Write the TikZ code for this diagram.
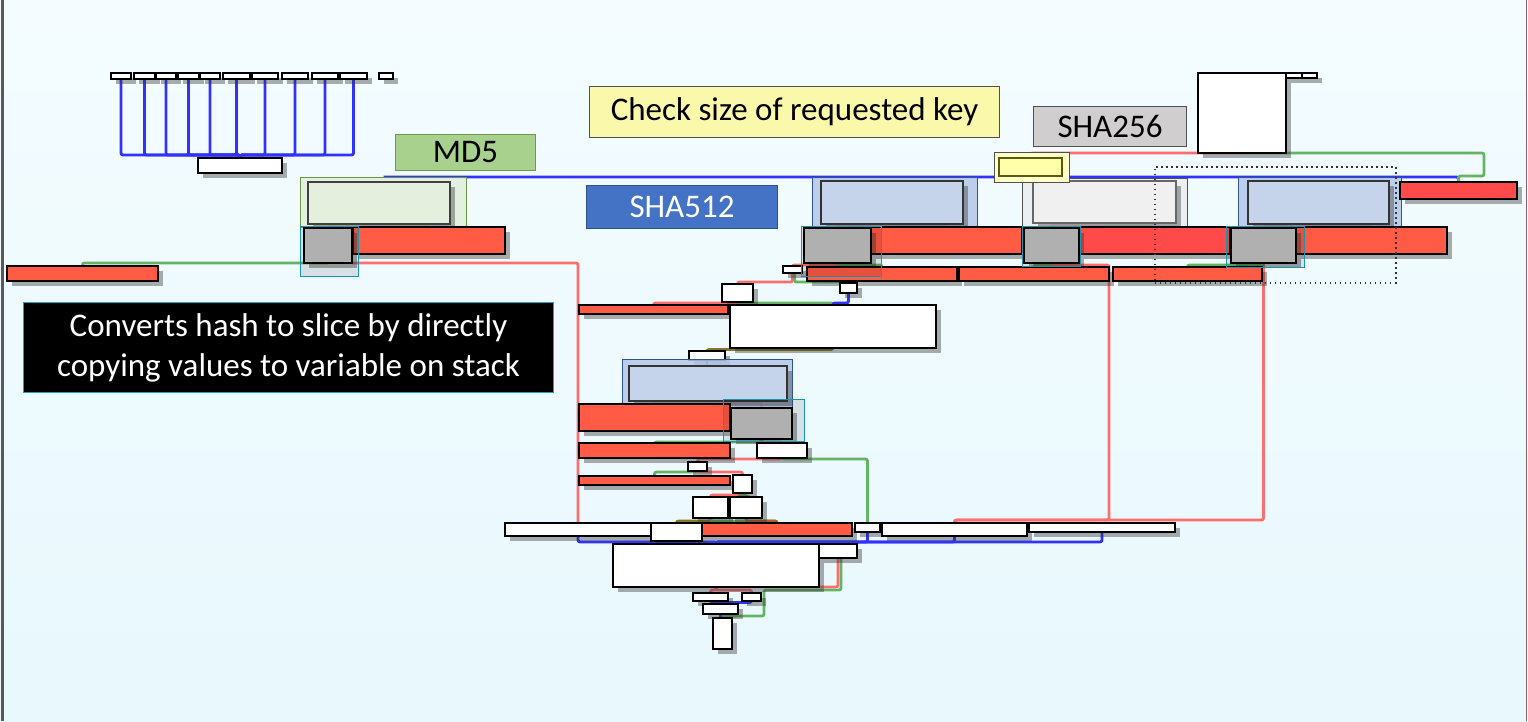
\documentclass[tikz,border=0pt]{standalone}
\usepackage{fontspec}
\setmainfont{Carlito}
\usepackage{xcolor}
\usetikzlibrary{shadows, backgrounds, calc}
\pgfdeclarelayer{edgelayer}
\pgfdeclarelayer{front}
\pgfsetlayers{background,edgelayer,main,front}
\definecolor{bgtop}{RGB}{244,252,255}
\definecolor{bgbot}{RGB}{232,248,253}
\definecolor{boxred}{RGB}{255,91,69}
\definecolor{boxredB}{RGB}{255,74,74}
\definecolor{boxgray}{RGB}{196,196,196}
\definecolor{grpbluedraw}{RGB}{47,85,151}
\definecolor{grpbluefill}{RGB}{180,199,231}
\definecolor{inbluefill}{RGB}{197,211,235}
\definecolor{grpgreendraw}{RGB}{106,150,72}
\definecolor{grpgreenfill}{RGB}{226,239,218}
\definecolor{ingreenfill}{RGB}{228,240,221}
\definecolor{grpgraydraw}{RGB}{80,80,80}
\definecolor{grpgrayfill}{RGB}{236,237,238}
\definecolor{ingrayfill}{RGB}{240,240,240}
\definecolor{grpyelfill}{RGB}{255,255,200}
\definecolor{inyelfill}{RGB}{255,255,170}
\definecolor{inyeldraw}{RGB}{90,90,20}
\definecolor{selcyan}{RGB}{25,150,175}
\definecolor{edgered}{RGB}{255,110,110}
\definecolor{edgegreen}{RGB}{100,180,100}
\definecolor{edgeblue}{RGB}{50,50,255}
\definecolor{edgeolive}{RGB}{130,120,40}
\definecolor{edgebrown}{RGB}{175,95,50}
\definecolor{lblchk}{RGB}{250,248,170}
\definecolor{lblmd5}{RGB}{169,209,142}
\definecolor{lblmd5d}{RGB}{112,150,80}
\definecolor{lbls512}{RGB}{68,114,196}
\definecolor{lbls512d}{RGB}{47,82,143}
\definecolor{lbls256}{RGB}{208,206,206}
\definecolor{lbldark}{RGB}{80,80,80}
\definecolor{notecyan}{RGB}{30,165,185}

\begin{document}
\begin{tikzpicture}[
    x=1pt, y=-1pt,
    % Block Styles
    blk/.style={rectangle, anchor=north west, inner sep=0pt, outer sep=0pt, line width=1.8pt, draw=black},
    shd/.style={drop shadow={shadow xshift=4.5pt, shadow yshift=-4.5pt, opacity=0.4, fill=black!80}},
    wbox/.style={blk, shd, fill=white},
    rbox/.style={blk, shd, fill=boxred},
    rboxb/.style={blk, shd, fill=boxredB},
    kbox/.style={blk, shd, fill=boxgray},
    % Group Styles
    grpblue/.style={rectangle, anchor=north west, inner sep=0pt, line width=1.3pt, draw=grpbluedraw, fill=grpbluefill, fill opacity=0.85},
    inblue/.style={blk, shd, draw=black!80, fill=inbluefill},
    grpgreen/.style={rectangle, anchor=north west, inner sep=0pt, line width=1.3pt, draw=grpgreendraw, fill=grpgreenfill, fill opacity=0.85},
    ingreen/.style={blk, shd, draw=black!75, fill=ingreenfill},
    grpgray/.style={rectangle, anchor=north west, inner sep=0pt, line width=1.3pt, draw=grpgraydraw, fill=grpgrayfill, fill opacity=0.85},
    ingray/.style={blk, shd, draw=black!60, fill=ingrayfill},
    grpyel/.style={rectangle, anchor=north west, inner sep=0pt, line width=1.3pt, draw=grpgraydraw, fill=grpyelfill},
    inyel/.style={blk, draw=inyeldraw, fill=inyelfill},
    selbox/.style={rectangle, anchor=north west, inner sep=0pt, line width=1.4pt, draw=selcyan, fill=black, fill opacity=0.1},
    % Edge Styles
    redln/.style={line width=2.8pt, draw=edgered, rounded corners=2pt},
    greenln/.style={line width=2.8pt, draw=edgegreen, rounded corners=2pt},
    blueln/.style={line width=2.8pt, draw=edgeblue, rounded corners=2pt},
    oliveln/.style={line width=2.8pt, draw=edgeolive, rounded corners=2pt},
    brownln/.style={line width=2.8pt, draw=edgebrown, rounded corners=2pt},
    % Label Styles
    lbl/.style={rectangle, anchor=north west, inner sep=0pt, line width=1pt, font=\fontsize{33}{40}\selectfont, align=center, text=black}
]
    \useasboundingbox (0,0) rectangle (1528,721);

    % =========================================================================
    % BACKGROUND
    % =========================================================================
    \begin{pgfonlayer}{background}
    \shade[top color=bgtop, bottom color=bgbot] (0,0) rectangle (1528,721);
    \draw[line width=3pt, draw=black!65] (2,0) -- (2,721);
    \draw[line width=1.5pt, draw={rgb,255:red,130;green,100;blue,100}] (1526.5,0) -- (1526.5,721);
    \end{pgfonlayer}

    % =========================================================================
    % 1. TOP LEFT: SWITCH FAN
    % =========================================================================
    \node (t1)  [wbox, minimum width=20, minimum height=6] at (111,73) {};
    \node (t2)  [wbox, minimum width=21, minimum height=6] at (134,73) {};
    \node (t3)  [wbox, minimum width=20, minimum height=6] at (156,73) {};
    \node (t4)  [wbox, minimum width=21, minimum height=6] at (178,73) {};
    \node (t5)  [wbox, minimum width=20, minimum height=6] at (200,73) {};
    \node (t6)  [wbox, minimum width=27, minimum height=6] at (223,73) {};
    \node (t7)  [wbox, minimum width=26, minimum height=6] at (252,73) {};
    \node (t8)  [wbox, minimum width=26, minimum height=6] at (282,73) {};
    \node (t9)  [wbox, minimum width=26, minimum height=6] at (312,73) {};
    \node (t10) [wbox, minimum width=27, minimum height=6] at (340,73) {};
    \node (t11) [wbox, minimum width=14, minimum height=6] at (379,73) {};
    \node (w_fan) [wbox, minimum width=84, minimum height=15] at (198,158) {};
    \node (r_left) [rbox, minimum width=151, minimum height=15] at (7,266) {};

    % =========================================================================
    % 2. MD5 BRANCH
    % =========================================================================
    \node (g_md5) [grpgreen, minimum width=166, minimum height=50] at (300,177) {};
    \node (b_md5) [ingreen, minimum width=142, minimum height=42] at (308,182) {};
    \node (r_md5) [rbox, minimum width=152, minimum height=27] at (353,227) {};
    \node (k_md5) [kbox, minimum width=48, minimum height=35] at (304,228) {};

    % =========================================================================
    % 3. SHA512 / SHA256 / SHA512 BRANCHES
    % =========================================================================
    \node (g_s1) [grpblue, minimum width=165, minimum height=51] at (812,177) {};
    \node (b_s1) [inblue, minimum width=142, minimum height=43] at (821,181) {};
    \node (g_s2) [grpgray, minimum width=165, minimum height=48] at (1022,178) {};
    \node (b_s2) [ingray, minimum width=143, minimum height=42] at (1033,181) {};
    \node (g_s3) [grpblue, minimum width=163, minimum height=51] at (1238,177) {};
    \node (b_s3) [inblue, minimum width=141, minimum height=43] at (1248,181) {};
    \node (r_right) [rboxb, minimum width=117, minimum height=17] at (1400,182) {};

    \node (r_s1) [rbox, minimum width=151, minimum height=27] at (871,227) {};
    \node (r_s2) [rboxb, minimum width=151, minimum height=27] at (1079,227) {};
    \node (r_s3) [rbox, minimum width=151, minimum height=27] at (1296,227) {};
    \node (k_s1) [kbox, minimum width=67, minimum height=35] at (804,228) {};
    \node (k_s2) [kbox, minimum width=55, minimum height=35] at (1024,228) {};
    \node (k_s3) [kbox, minimum width=65, minimum height=35] at (1231,228) {};

    \node (g_chk) [grpyel, minimum width=75, minimum height=30] at (994,152) {};
    \node (y_chk) [inyel, minimum width=63, minimum height=18] at (999,158) {};
    \node (w_sq)  [wbox, minimum width=88, minimum height=80] at (1198,73) {};
    \node (w_sq1) [wbox, minimum width=16, minimum height=5] at (1286,73) {};
    \node (w_sq2) [wbox, minimum width=15, minimum height=5] at (1302,73) {};

    % row under the branches
    \node (r_r3a) [rbox, minimum width=150, minimum height=14] at (807,267) {};
    \node (r_r3b) [rbox, minimum width=150, minimum height=14] at (959,267) {};
    \node (r_r3c) [rbox, minimum width=149, minimum height=14] at (1113,267) {};
    \node (w_s1)  [wbox, minimum width=19, minimum height=7] at (783,266) {};
    \node (w_s2)  [wbox, minimum width=17, minimum height=10] at (840,283) {};

    % =========================================================================
    % 4. MIDDLE: SLICE COPY
    % =========================================================================
    \node (w_m1) [wbox, minimum width=31, minimum height=18] at (722,284) {};
    \node (r_m1) [rbox, minimum width=149, minimum height=9] at (579,305) {};
    \node (w_m2) [wbox, minimum width=206, minimum height=43] at (730,305) {};
    \node (w_m3) [wbox, minimum width=36, minimum height=9] at (689,351) {};
    \node (g_m)  [grpblue, minimum width=170, minimum height=49] at (622,359) {};
    \node (b_m)  [inblue, minimum width=158, minimum height=35] at (629,366) {};
    \node (r_m2) [rbox, minimum width=151, minimum height=27] at (579,404) {};
    \node (k_m)  [kbox, minimum width=61, minimum height=31] at (731,408) {};
    \node (r_m3) [rbox, minimum width=151, minimum height=15] at (579,443) {};
    \node (w_m4) [wbox, minimum width=50, minimum height=15] at (757,443) {};
    \node (w_m5) [wbox, minimum width=19, minimum height=9] at (688,462) {};
    \node (r_m4) [rbox, minimum width=151, minimum height=9] at (579,476) {};
    \node (w_m6) [wbox, minimum width=19, minimum height=18] at (733,475) {};
    \node (w_m7) [wbox, minimum width=35, minimum height=21] at (693,497) {};
    \node (w_m8) [wbox, minimum width=32, minimum height=21] at (730,497) {};

    % =========================================================================
    % 5. BOTTOM: MERGE AND EXIT
    % =========================================================================
    \node (w_b1) [wbox, minimum width=146, minimum height=13] at (505,523) {};
    \node (w_b2) [wbox, minimum width=51, minimum height=18] at (651,523) {};
    \node (r_b3) [rbox, minimum width=150, minimum height=13] at (702,523) {};
    \node (w_b4) [wbox, minimum width=25, minimum height=9] at (855,523) {};
    \node (w_b5) [wbox, minimum width=145, minimum height=13] at (882,523) {};
    \node (w_b6) [wbox, minimum width=146, minimum height=9] at (1029,523) {};
    \node (w_c1) [wbox, minimum width=206, minimum height=43] at (613,544) {};
    \node (w_c2) [wbox, minimum width=38, minimum height=14] at (819,544) {};
    \node (w_d1) [wbox, minimum width=35, minimum height=8] at (693,593) {};
    \node (w_d2) [wbox, minimum width=19, minimum height=8] at (742,593) {};
    \node (w_d3) [wbox, minimum width=35, minimum height=10] at (703,604) {};
    \node (w_d4) [wbox, minimum width=19, minimum height=31] at (713,618) {};
    \coordinate (j_red) at ($(w_b5.north)+(0,-3)$);

    % =========================================================================
    % SELECTIONS
    % =========================================================================
    \node (c_md5) [selbox, minimum width=58, minimum height=50] at (300,226) {};
    \node (c_s1)  [selbox, minimum width=80, minimum height=50] at (801,226) {};
    \node (c_s2)  [selbox, minimum width=58, minimum height=40] at (1022,226) {};
    \node (c_s3)  [selbox, minimum width=78, minimum height=41] at (1226,226) {};
    \node (c_m)   [selbox, minimum width=81, minimum height=42] at (723,399) {};
    \node (d_sel) [rectangle, anchor=north west, inner sep=0pt, line width=1.6pt, draw=black!80, dash pattern=on 1.6pt off 3.4pt, minimum width=241, minimum height=116] at (1154,166) {};

    % =========================================================================
    % CONNECTIONS
    % =========================================================================
    \begin{pgfonlayer}{edgelayer}
    % switch fan
    \foreach \n in {t1,t2,t3,t4,t5,t6,t7,t8,t9,t10}
      \draw[blueln] (\n.south) |- ([yshift=3pt]w_fan.north) -- (w_fan.north);

    % long edges
    \draw[greenln] (k_md5.south) -| (r_left.north);
    \draw[redln] (k_md5.south east) -| (w_b1.north);
    \draw[blueln] (g_md5.north) -- (g_md5.north -| r_right.north) -- (r_right.north);
    \draw[greenln] (w_sq.south) -- ++(242,0) -- ++(0,23) -| (r_right.north);
    \draw[redln] (y_chk.north) |- (w_sq.south);
    \draw[redln] (k_s2.south) -- ++(0,2) -| (r_r3b.north east) |- (j_red) -- (w_b5.north);
    \draw[redln] (k_s3.south) |- (j_red) -- (w_b5.north);

    % branch heads
    \foreach \g/\k/\r in {b_md5/k_md5/r_md5, b_s1/k_s1/r_s1, b_s2/k_s2/r_s2, b_s3/k_s3/r_s3, b_m/k_m/r_m2} {
      \draw[redln] (\g.south) -- ++(0,2) -| (\k.north);
      \draw[greenln] (\g.south) -- ++(0,2) -| (\r.north);
    }
    \draw[redln] (k_s1.south) -- ++(0,2) -| (w_s1.north);
    \draw[greenln] (k_s1.south) -- ++(0,2) -| (r_r3a.north);
    \draw[greenln] (k_s2.south) -- ++(0,2) -| (r_r3b.north);
    \draw[greenln] (k_s3.south) -- ++(0,2) -| (r_r3c.north);

    % middle chain
    \draw[redln] (w_s1.south) -- ++(0,9) -| (w_m1.north);
    \draw[greenln] ([xshift=2pt]w_s1.south) -- ++(0,9) -| (w_s2.north);
    \draw[redln] (w_m1.south) -- ++(0,1) -| (r_m1.north);
    \draw[greenln] (w_m1.south) -- ++(0,1) -| (w_m2.north);
    \draw[blueln] (w_s2.south) -- ++(0,10) -| (w_m2.north);
    \draw[oliveln] (w_m2.south) -- ++(0,1.5) -| (w_m3.north);
    \draw[blueln] (w_m3.south) -- (w_m3.south |- b_m.north);
    \draw[greenln] (k_m.south) -- ++(0,3) -| (r_m3.north);
    \draw[redln] (k_m.south) -- ++(0,3) -| (w_m4.north);
    \draw[redln] (w_m4.south) -- ++(0,1) -| (w_m5.north);
    \draw[greenln] (w_m4.south) -- ++(0,1) -| (w_b4.north);
    \draw[greenln] (w_m5.south) -- ++(0,1) -| (r_m4.north);
    \draw[redln] (w_m5.south) -- ++(0,1) -| (w_m6.north);
    \draw[redln] (w_m6.south) -- ++(0,2) -| (w_m7.north);
    \draw[greenln] (w_m6.south) -- ++(0,2) -| (w_m8.north);
    \draw[oliveln] (w_m7.south) -- ++(0,3) -| (w_b2.north);
    \draw[greenln] (w_m7.south) -- ++(0,3) -| (r_b3.north);
    \draw[brownln] (w_m8.south) -- ++(0,3) -| (r_b3.north);

    % bottom merge
    \foreach \n in {w_b1,w_b4,w_b5,w_b6}
      \draw[blueln] (\n.south) |- ([yshift=2pt]w_c1.north) -- (w_c1.north);
    \draw[redln] (w_c2.south) |- (w_c1.south east);
    \draw[greenln] ([xshift=3pt]w_c2.south) |- ([xshift=3pt,yshift=3pt]w_d2.north east) |- ([yshift=2pt]w_d4.north) -- (w_d4.north);
    \draw[redln] (w_c1.south) -- ++(0,3) -| (w_d1.north);
    \draw[redln] (w_c1.south) -- ++(0,3) -| (w_d2.north);
    \draw[blueln] (w_d1.south) -- ++(0,1.5) -| (w_d3.north);
    \draw[blueln] (w_d2.south) -- ++(0,1.5) -| (w_d3.north);
    \draw[blueln] (w_d3.south) -- (w_d3.south |- w_d4.north);
    \end{pgfonlayer}

    % =========================================================================
    % CALLOUTS
    % =========================================================================
    \begin{pgfonlayer}{front}
    \node (l_chk) [lbl, fill=lblchk, draw=lbldark, minimum width=410, minimum height=51] at (589,86) {Check size of requested key};
    \node (l_md5) [lbl, fill=lblmd5, draw=lblmd5d, minimum width=140, minimum height=36] at (395,134) {MD5};
    \node (l_s512) [lbl, fill=lbls512, draw=lbls512d, text=white, minimum width=191, minimum height=43] at (586,185) {SHA512};
    \node (l_s256) [lbl, fill=lbls256, draw=lbldark, minimum width=153, minimum height=40] at (1033,106) {SHA256};
    \node (l_note) [lbl, fill=black, draw=notecyan, text=white, minimum width=530, minimum height=90] at (23,302) {Converts hash to slice by directly\\copying values to variable on stack};
    \end{pgfonlayer}

\end{tikzpicture}
\end{document}
